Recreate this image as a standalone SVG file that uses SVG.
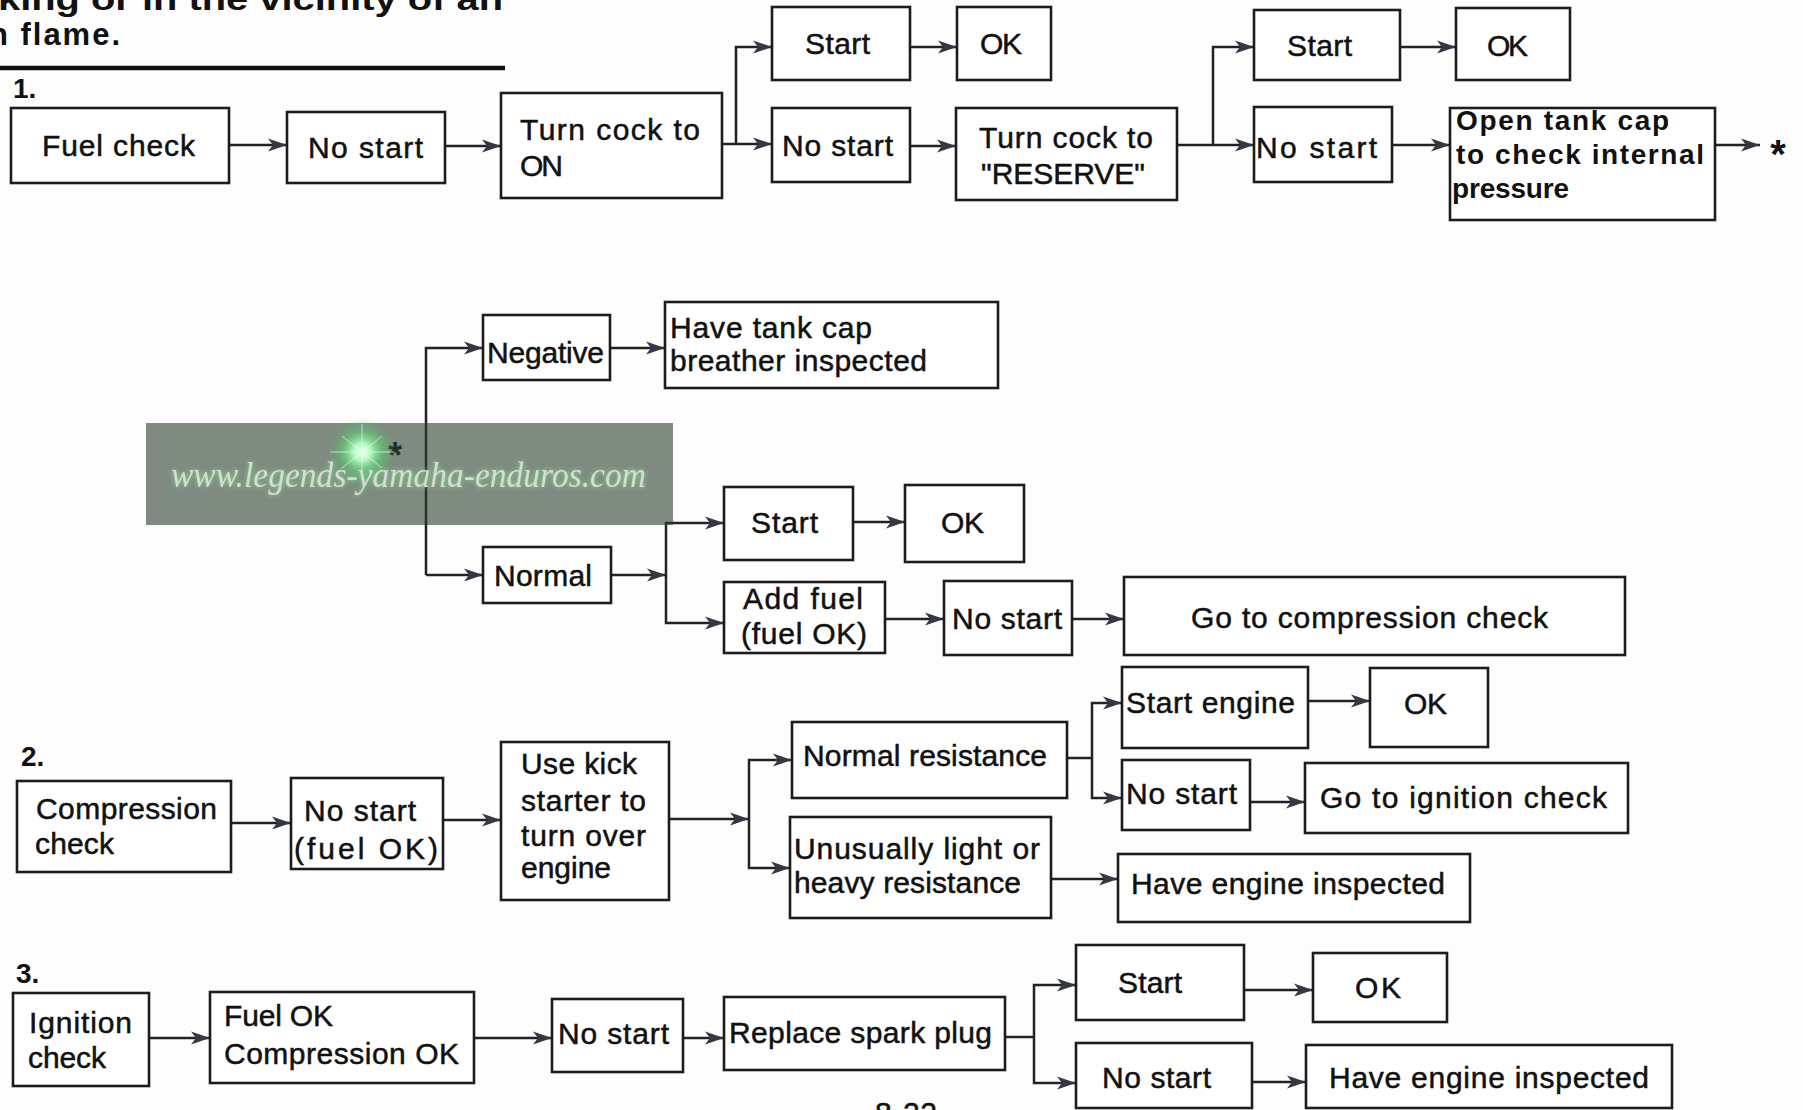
<svg xmlns="http://www.w3.org/2000/svg" width="1803" height="1110" viewBox="0 0 1803 1110">
<style>
.box{fill:#fff;stroke:#1c1c1c;stroke-width:2.6}
.t{font-family:'Liberation Sans',Arial,sans-serif;font-size:30px;fill:#111;stroke:#111;stroke-width:0.5}
.ob{font-size:28px;font-weight:bold;stroke-width:0}
.b{font-family:'Liberation Sans',Arial,sans-serif;font-weight:bold;fill:#111}
.c{fill:none;stroke:#222;stroke-width:2.5}
.a{marker-end:url(#ah)}
</style>
<defs>
<marker id="ah" markerUnits="userSpaceOnUse" markerWidth="24" markerHeight="16" viewBox="-22 -8 24 16" refX="0" refY="0" orient="auto">
<path d="M0,0 L-19,-6.5 L-14,0 L-19,6.5 Z" fill="#333844"/>
</marker>
<radialGradient id="spark" cx="0.5" cy="0.5" r="0.5">
<stop offset="0" stop-color="#ffffff" stop-opacity="1"/>
<stop offset="0.25" stop-color="#b8ffc8" stop-opacity="0.95"/>
<stop offset="0.6" stop-color="#58e070" stop-opacity="0.45"/>
<stop offset="1" stop-color="#40c060" stop-opacity="0"/>
</radialGradient>
<filter id="glow" x="-10%" y="-50%" width="120%" height="200%">
<feGaussianBlur in="SourceAlpha" stdDeviation="2.5" result="bl"/>
<feFlood flood-color="#7dff8a" flood-opacity="0.8"/>
<feComposite in2="bl" operator="in" result="g"/>
<feMerge><feMergeNode in="g"/><feMergeNode in="SourceGraphic"/></feMerge>
</filter>
</defs>
<rect x="0" y="0" width="1803" height="1110" fill="#fdfdfd"/>

<g id="header">
<text class="b" x="-2" y="10" font-size="31" textLength="505" lengthAdjust="spacingAndGlyphs">king or in the vicinity of an</text>
<text class="b" x="-11" y="45" font-size="31" textLength="131" lengthAdjust="spacing">n flame.</text>
<line x1="0" y1="68" x2="505" y2="68" stroke="#111" stroke-width="4.5"/>
<text class="b" x="13" y="98" font-size="28">1.</text>
<text class="b" x="21" y="766" font-size="28">2.</text>
<text class="b" x="16" y="983" font-size="28">3.</text>
<text class="t" x="875" y="1123" textLength="62" lengthAdjust="spacing">8-22</text>
</g>

<g id="connectors">
<path class="c a" d="M229,145 H287"/>
<path class="c a" d="M445,146 H501"/>
<path class="c a" d="M722,144 H772"/>
<path class="c a" d="M736,144 V47 H772"/>
<path class="c a" d="M910,47 H957"/>
<path class="c a" d="M910,146 H956"/>
<path class="c a" d="M1177,145 H1254"/>
<path class="c a" d="M1213,145 V47 H1254"/>
<path class="c a" d="M1400,47 H1456"/>
<path class="c a" d="M1392,145 H1450"/>
<path class="c a" d="M1715,145 H1760"/>

<path class="c a" d="M426,575 V348 H483"/>
<path class="c a" d="M426,575 H483"/>
<path class="c a" d="M610,348 H665"/>
<path class="c a" d="M611,575 H666"/>
<path class="c a" d="M666,575 V523 H724"/>
<path class="c a" d="M666,575 V623 H724"/>
<path class="c a" d="M853,522 H905"/>
<path class="c a" d="M885,619 H944"/>
<path class="c a" d="M1072,619 H1124"/>

<path class="c a" d="M231,823 H291"/>
<path class="c a" d="M443,820 H501"/>
<path class="c a" d="M669,819 H749"/>
<path class="c a" d="M749,819 V760 H792"/>
<path class="c a" d="M749,819 V868 H790"/>
<path class="c" d="M1067,758 H1092"/>
<path class="c a" d="M1092,758 V703 H1122"/>
<path class="c a" d="M1092,758 V798 H1122"/>
<path class="c a" d="M1308,701 H1370"/>
<path class="c a" d="M1250,802 H1305"/>
<path class="c a" d="M1051,879 H1118"/>

<path class="c a" d="M149,1038 H210"/>
<path class="c a" d="M474,1038 H552"/>
<path class="c a" d="M683,1038 H724"/>
<path class="c" d="M1005,1037 H1034"/>
<path class="c a" d="M1034,1037 V985 H1076"/>
<path class="c a" d="M1034,1037 V1083 H1076"/>
<path class="c a" d="M1244,990 H1313"/>
<path class="c a" d="M1252,1082 H1306"/>
</g>

<g id="fuel-check"><rect class="box" x="11" y="108" width="218" height="75"/><text class="t" x="42" y="156" textLength="153">Fuel check</text></g>
<g id="no-start-1"><rect class="box" x="287" y="112" width="158" height="71"/><text class="t" x="308" y="158" textLength="115">No start</text></g>
<g id="turn-cock-on"><rect class="box" x="501" y="93" width="221" height="105"/><text class="t" x="520" y="140" textLength="180">Turn cock to</text><text class="t" x="520" y="176" textLength="43">ON</text></g>
<g id="start-1a"><rect class="box" x="772" y="7" width="138" height="73"/><text class="t" x="805" y="54" textLength="65">Start</text></g>
<g id="ok-1a"><rect class="box" x="957" y="7" width="94" height="73"/><text class="t" x="980" y="54" textLength="42">OK</text></g>
<g id="no-start-1b"><rect class="box" x="772" y="108" width="138" height="74"/><text class="t" x="782" y="156" textLength="111">No start</text></g>
<g id="turn-cock-reserve"><rect class="box" x="956" y="108" width="221" height="92"/><text class="t" x="979" y="148" textLength="174">Turn cock to</text><text class="t" x="981" y="184" textLength="164">"RESERVE"</text></g>
<g id="start-1c"><rect class="box" x="1254" y="10" width="146" height="70"/><text class="t" x="1287" y="56" textLength="65">Start</text></g>
<g id="ok-1c"><rect class="box" x="1456" y="8" width="114" height="72"/><text class="t" x="1487" y="56" textLength="41">OK</text></g>
<g id="no-start-1c"><rect class="box" x="1254" y="107" width="138" height="75"/><text class="t" x="1256" y="158" textLength="121">No start</text></g>
<g id="open-tank-cap"><rect class="box" x="1450" y="108" width="265" height="112"/><text class="t ob" x="1456" y="130" textLength="213">Open tank cap</text><text class="t ob" x="1456" y="164" textLength="248">to check internal</text><text class="t ob" x="1452" y="198" textLength="117">pressure</text></g>
<g id="continue-marker-1"><text class="b" x="1778" y="168" font-size="40" text-anchor="middle">*</text></g>

<g id="negative"><rect class="box" x="483" y="315" width="127" height="65"/><text class="t" x="487" y="363" textLength="117">Negative</text></g>
<g id="have-tank-cap"><rect class="box" x="665" y="302" width="333" height="86"/><text class="t" x="670" y="338" textLength="202">Have tank cap</text><text class="t" x="670" y="371" textLength="257">breather inspected</text></g>
<g id="normal"><rect class="box" x="483" y="547" width="128" height="56"/><text class="t" x="494" y="586" textLength="98">Normal</text></g>
<g id="start-2"><rect class="box" x="724" y="487" width="129" height="73"/><text class="t" x="751" y="533" textLength="67">Start</text></g>
<g id="ok-2"><rect class="box" x="905" y="485" width="119" height="77"/><text class="t" x="941" y="533" textLength="43">OK</text></g>
<g id="add-fuel"><rect class="box" x="724" y="582" width="161" height="71"/><text class="t" x="743" y="609" textLength="120">Add fuel</text><text class="t" x="741" y="644" textLength="126">(fuel OK)</text></g>
<g id="no-start-2"><rect class="box" x="944" y="581" width="128" height="74"/><text class="t" x="952" y="629" textLength="110">No start</text></g>
<g id="go-compression"><rect class="box" x="1124" y="577" width="501" height="78"/><text class="t" x="1191" y="628" textLength="357">Go to compression check</text></g>

<g id="compression-check"><rect class="box" x="17" y="781" width="214" height="91"/><text class="t" x="36" y="819" textLength="181">Compression</text><text class="t" x="35" y="854" textLength="79">check</text></g>
<g id="no-start-fuel-ok"><rect class="box" x="291" y="778" width="152" height="91"/><text class="t" x="304" y="821" textLength="112">No start</text><text class="t" x="294" y="859" textLength="144">(fuel OK)</text></g>
<g id="use-kick"><rect class="box" x="501" y="742" width="168" height="158"/><text class="t" x="521" y="774" textLength="116">Use kick</text><text class="t" x="521" y="811" textLength="125">starter to</text><text class="t" x="521" y="846" textLength="125">turn over</text><text class="t" x="521" y="878" textLength="90">engine</text></g>
<g id="normal-resistance"><rect class="box" x="792" y="722" width="275" height="76"/><text class="t" x="803" y="766" textLength="244">Normal resistance</text></g>
<g id="start-engine"><rect class="box" x="1122" y="667" width="186" height="81"/><text class="t" x="1126" y="713" textLength="169">Start engine</text></g>
<g id="ok-3"><rect class="box" x="1370" y="668" width="118" height="79"/><text class="t" x="1404" y="714" textLength="43">OK</text></g>
<g id="no-start-3"><rect class="box" x="1122" y="760" width="128" height="70"/><text class="t" x="1126" y="804" textLength="111">No start</text></g>
<g id="go-ignition"><rect class="box" x="1305" y="763" width="323" height="70"/><text class="t" x="1320" y="808" textLength="287">Go to ignition check</text></g>
<g id="unusual-resistance"><rect class="box" x="790" y="817" width="261" height="101"/><text class="t" x="794" y="859" textLength="246">Unusually light or</text><text class="t" x="794" y="893" textLength="227">heavy resistance</text></g>
<g id="have-engine-inspected-1"><rect class="box" x="1118" y="854" width="352" height="68"/><text class="t" x="1131" y="894" textLength="314">Have engine inspected</text></g>

<g id="ignition-check"><rect class="box" x="13" y="993" width="136" height="93"/><text class="t" x="29" y="1033" textLength="103">Ignition</text><text class="t" x="28" y="1068" textLength="78">check</text></g>
<g id="fuel-ok-compression-ok"><rect class="box" x="210" y="992" width="264" height="91"/><text class="t" x="224" y="1026" textLength="109">Fuel OK</text><text class="t" x="224" y="1064" textLength="235">Compression OK</text></g>
<g id="no-start-4"><rect class="box" x="552" y="999" width="131" height="73"/><text class="t" x="558" y="1044" textLength="111">No start</text></g>
<g id="replace-spark-plug"><rect class="box" x="724" y="997" width="281" height="73"/><text class="t" x="729" y="1043" textLength="263">Replace spark plug</text></g>
<g id="start-4"><rect class="box" x="1076" y="945" width="168" height="75"/><text class="t" x="1118" y="993" textLength="64">Start</text></g>
<g id="ok-4"><rect class="box" x="1313" y="953" width="134" height="69"/><text class="t" x="1355" y="998" textLength="46">OK</text></g>
<g id="no-start-4b"><rect class="box" x="1076" y="1043" width="176" height="65"/><text class="t" x="1102" y="1088" textLength="109">No start</text></g>
<g id="have-engine-inspected-2"><rect class="box" x="1306" y="1045" width="366" height="63"/><text class="t" x="1329" y="1088" textLength="320">Have engine inspected</text></g>

<g id="continue-marker-2"><text class="b" x="395" y="468" font-size="36" text-anchor="middle">*</text></g>

<g id="watermark">
<rect x="146" y="423" width="527" height="102" fill="rgb(43,62,45)" fill-opacity="0.6"/>
<circle cx="362" cy="452" r="34" fill="url(#spark)"/>
<path d="M330,452 H394 M362,424 V480 M342,436 L382,468 M342,468 L382,436" stroke="#d8ffe0" stroke-width="1" stroke-opacity="0.7"/>
<text x="171" y="487" font-family="'Liberation Serif','DejaVu Serif',serif" font-style="italic" font-size="36" fill="#d9d9d9" textLength="475" lengthAdjust="spacingAndGlyphs" filter="url(#glow)">www.legends-yamaha-enduros.com</text>
</g>
</svg>
